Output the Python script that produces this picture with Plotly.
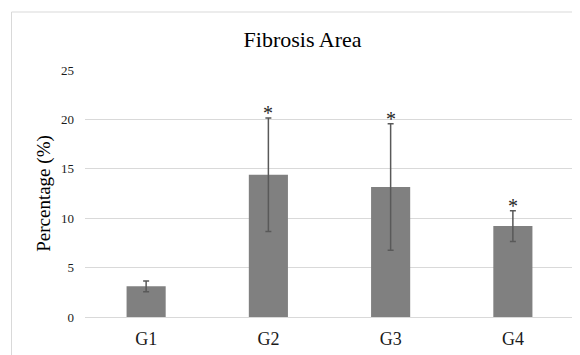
import plotly.graph_objects as go

groups = ["G1", "G2", "G3", "G4"]
means = [3.1, 14.4, 13.15, 9.2]
errors = [0.55, 5.75, 6.4, 1.55]
marks = ["", "*", "*", "*"]
y_ticks = [0, 5, 10, 15, 20, 25]

FONT = "Times New Roman, Liberation Serif, serif"

# page body has an 8px margin, so the figure is drawn at (8, 8)
W, H = 572, 347

fig = go.Figure()
fig.add_trace(go.Bar(
    x=groups, y=means,
    marker=dict(color="#808080", line=dict(width=0)),
    error_y=dict(type="data", array=errors, visible=True,
                 color="#595959", thickness=1.5, width=3),
    width=0.32,
))

for g, m, e, s in zip(groups, means, errors, marks):
    if s:
        fig.add_annotation(x=g, y=m + e, text=s, showarrow=False,
                           yanchor="bottom", yshift=-8,
                           font=dict(family=FONT, size=20, color="#262626"))

fig.add_shape(type="rect", xref="paper", yref="paper",
              x0=-0.1503, x1=1.2, y0=-0.5, y1=1.2348,
              line=dict(color="#d9d9d9", width=1), fillcolor="rgba(0,0,0,0)",
              layer="below")

fig.update_layout(
    width=W, height=H,
    margin=dict(l=77, r=6, t=62, b=38),
    paper_bgcolor="white", plot_bgcolor="white",
    showlegend=False,
    font=dict(family=FONT, color="#262626"),
    title=dict(text="Fibrosis Area", x=0.515, xanchor="center",
               y=0.91, yanchor="middle",
               font=dict(family=FONT, size=22, color="#000000")),
    xaxis=dict(showgrid=False, showline=False, ticks="",
               tickfont=dict(family=FONT, size=18, color="#1a1a1a"),
               ticklabelstandoff=9),
    yaxis=dict(range=[0, 25], tickvals=y_ticks, showgrid=True,
               gridcolor="#d9d9d9", gridwidth=1,
               zeroline=True, zerolinecolor="#d9d9d9", zerolinewidth=1,
               showline=False, ticks="",
               tickfont=dict(family=FONT, size=13, color="#1a1a1a"),
               ticklabelstandoff=10,
               title=dict(text="Percentage (%)", standoff=5,
                          font=dict(family=FONT, size=19, color="#000000"))),
)

fig.write_html("out.html")
